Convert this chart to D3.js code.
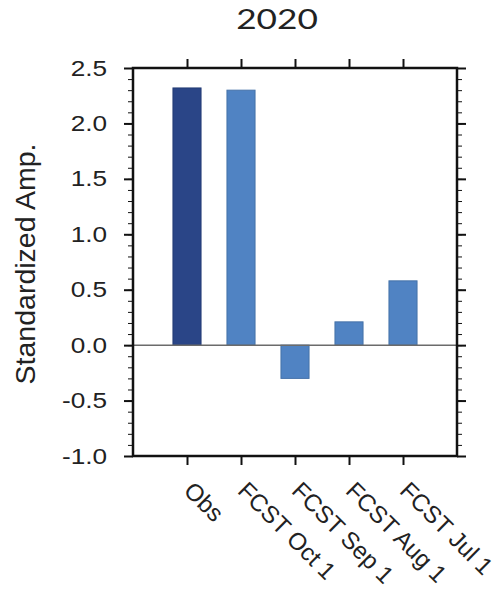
<!DOCTYPE html>
<html>
<head>
<meta charset="utf-8">
<script src="https://d3js.org/d3.v7.min.js"></script>
<style>
  body { margin: 0; background: #fff; }
  .axis text { font-family: "Liberation Sans", Arial, sans-serif; font-size: 22px; fill: #222; }
  .axis path, .axis line { stroke: #111; }
</style>
</head>
<body>
<div id="chart-area"></div>
<script>

// data
var categories = ["Obs", "FCST Oct 1", "FCST Sep 1", "FCST Aug 1", "FCST Jul 1"];
var amplitudes = [2.32, 2.30, -0.30, 0.21, 0.58];
var barColors = ["#2a4587", "#5083c3", "#5083c3", "#5083c3", "#5083c3"];
var yTicks = [-1.0, -0.5, 0.0, 0.5, 1.0, 1.5, 2.0, 2.5];
var titleText = "2020";
var yLabel = "Standardized Amp.";

// the picture is a bit wider than tall, so upright text gets stretched sideways
var stretch = 1.19;

/*
 * AmpBars - Object constructor function
 * @param _parentElement  -- id of the element to draw in
 */
AmpBars = function(_parentElement){
  this.parentElement = _parentElement;
  this.data = categories.map(function(c, i){
    return { name: c, pos: i + 1, value: amplitudes[i], color: barColors[i] };
  });
  this.initVis();
}

AmpBars.prototype.initVis = function(){
  var vis = this;

  vis.margin = { top: 68, right: 43, bottom: 136, left: 133 };
  vis.width = 500 - vis.margin.left - vis.margin.right;
  vis.height = 592 - vis.margin.top - vis.margin.bottom;

  vis.root = d3.select("#" + vis.parentElement).append("svg")
      .attr("width", 500)
      .attr("height", 592);

  vis.svg = vis.root.append("g")
      .attr("transform", "translate(" + vis.margin.left + "," + vis.margin.top + ")");

  // scales: categories sit at 1..5 on a 0..6 linear axis
  vis.x = d3.scaleLinear()
      .domain([0, categories.length + 1])
      .range([0, vis.width]);

  vis.y = d3.scaleLinear()
      .domain([-1.0, 2.5])
      .range([vis.height, 0]);

  var step = vis.x(1) - vis.x(0);
  var minor = d3.range(-10, 26).map(function(d){ return d / 10; });

  // minor ticks left and right
  vis.svg.append("g")
      .attr("class", "axis")
      .call(d3.axisLeft(vis.y).tickValues(minor).tickSize(5).tickFormat(""))
      .call(function(g){ g.select(".domain").remove(); });
  vis.svg.append("g")
      .attr("class", "axis")
      .attr("transform", "translate(" + vis.width + ",0)")
      .call(d3.axisRight(vis.y).tickValues(minor).tickSize(5).tickFormat(""))
      .call(function(g){ g.select(".domain").remove(); });

  // major y ticks
  vis.yAxis = vis.svg.append("g")
      .attr("class", "axis")
      .call(d3.axisLeft(vis.y).tickValues(yTicks).tickSize(9).tickPadding(17));
  vis.yAxis.select(".domain").remove();
  vis.yAxis.selectAll("line").attr("stroke-width", 2);
  vis.yAxis.selectAll("text")
      .text(function(d){ return d3.format(".1f")(d).replace("\u2212", "-"); })
      .attr("x", function(){ return +this.getAttribute("x") / stretch; })
      .attr("transform", "scale(" + stretch + ",1)");

  vis.svg.append("g")
      .attr("class", "axis")
      .attr("transform", "translate(" + vis.width + ",0)")
      .call(d3.axisRight(vis.y).tickValues(yTicks).tickSize(9).tickFormat(""))
      .call(function(g){ g.select(".domain").remove(); g.selectAll("line").attr("stroke-width", 2); });

  // x ticks top and bottom
  var pos = categories.map(function(c, i){ return i + 1; });
  vis.svg.append("g")
      .attr("class", "axis")
      .call(d3.axisTop(vis.x).tickValues(pos).tickSize(9).tickFormat(""))
      .call(function(g){ g.select(".domain").remove(); g.selectAll("line").attr("stroke-width", 2); });

  vis.xAxis = vis.svg.append("g")
      .attr("class", "axis x-axis")
      .attr("transform", "translate(0," + vis.height + ")")
      .call(d3.axisBottom(vis.x).tickValues(pos).tickSize(9)
        .tickFormat(function(d){ return categories[d - 1]; }));
  vis.xAxis.select(".domain").remove();
  vis.xAxis.selectAll("line").attr("stroke-width", 2);
  vis.xAxis.selectAll("text")
      .attr("text-anchor", "start")
      .attr("x", 0).attr("y", 0).attr("dy", 0)
      .style("font-size", "24px")
      .attr("transform", "translate(-5,36) rotate(45)");

  // bars
  vis.svg.selectAll(".bar")
      .data(vis.data)
      .enter().append("rect")
      .attr("class", "bar")
      .attr("x", function(d){ return vis.x(d.pos) - step * 0.26; })
      .attr("width", step * 0.52)
      .attr("y", function(d){ return vis.y(Math.max(0, d.value)); })
      .attr("height", function(d){ return Math.abs(vis.y(d.value) - vis.y(0)); })
      .attr("fill", function(d){ return d.color; })
      .attr("stroke", function(d){ return d3.color(d.color).darker(0.4); })
      .attr("stroke-width", 1);

  // zero line
  vis.svg.append("line")
      .attr("x1", 0).attr("x2", vis.width)
      .attr("y1", vis.y(0)).attr("y2", vis.y(0))
      .attr("stroke", "#6b6b6b")
      .attr("stroke-width", 1.5);

  // frame
  vis.svg.append("rect")
      .attr("width", vis.width)
      .attr("height", vis.height)
      .attr("fill", "none")
      .attr("stroke", "#111")
      .attr("stroke-width", 2.5);

  // title
  vis.root.append("text")
      .attr("transform", "translate(277,29) scale(1.33,1)")
      .attr("text-anchor", "middle")
      .style("font-family", "Lato, 'Open Sans', sans-serif")
      .style("font-size", "26.5px")
      .style("fill", "#222")
      .text(titleText);

  // y label
  vis.root.append("text")
      .attr("transform", "translate(35,264) rotate(-90)")
      .attr("text-anchor", "middle")
      .style("font-family", "'Liberation Sans', Arial, sans-serif")
      .style("font-size", "28.5px")
      .style("fill", "#222")
      .text(yLabel);
}

new AmpBars("chart-area");

</script>
</body>
</html>
